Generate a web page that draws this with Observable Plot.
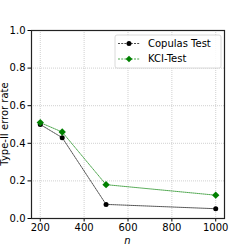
<!DOCTYPE html>
<html><head><meta charset="utf-8">
<script src="https://cdn.jsdelivr.net/npm/d3@7"></script>
<script src="https://cdn.jsdelivr.net/npm/@observablehq/plot@0.6"></script>
<style>
html,body{margin:0;padding:0;background:#fff;}
#chart{width:249px;height:249px;}
svg{font-family:"DejaVu Sans",sans-serif;}
</style></head>
<body><div id="chart"></div>
<script>
const nValues = [200, 300, 500, 1000];
const copulas = [0.50, 0.43, 0.075, 0.052];
const kci = [0.51, 0.46, 0.18, 0.124];
const xTicks = [200, 400, 600, 800, 1000];
const yTicks = [0.0, 0.2, 0.4, 0.6, 0.8, 1.0];
const seriesNames = ["Copulas Test", "KCI-Test"];
const seriesColors = ["#000000", "#008000"];

const rows = [];
nValues.forEach((n, i) => {
  rows.push({n, v: copulas[i], s: seriesNames[0]});
  rows.push({n, v: kci[i], s: seriesNames[1]});
});
const cop = rows.filter(d => d.s === seriesNames[0]);
const kc = rows.filter(d => d.s === seriesNames[1]);

const svg = Plot.plot({
  width: 249, height: 249,
  marginLeft: 31, marginRight: 25, marginTop: 30, marginBottom: 31,
  style: {fontSize: "10px", fontFamily: "DejaVu Sans, sans-serif", color: "#000", background: "#fff"},
  x: {domain: [160, 1040], ticks: xTicks},
  y: {domain: [0, 1], ticks: yTicks},
  marks: [
    Plot.gridX(xTicks, {stroke: "#b0b0b0", strokeOpacity: 1, strokeWidth: 0.6, strokeDasharray: "1,1"}),
    Plot.gridY(yTicks, {stroke: "#b0b0b0", strokeOpacity: 1, strokeWidth: 0.6, strokeDasharray: "1,1"}),
    Plot.axisX(xTicks, {tickSize: 3.5, tickPadding: 2, label: null, tickFormat: d3.format("d"), fontSize: 10}),
    Plot.axisY(yTicks, {tickSize: 3.5, tickPadding: 2.5, label: null, tickFormat: d3.format(".1f"), fontSize: 10}),
    Plot.line(cop, {x: "n", y: "v", stroke: seriesColors[0], strokeWidth: 0.7, strokeDasharray: "1,1"}),
    Plot.line(kc, {x: "n", y: "v", stroke: seriesColors[1], strokeWidth: 0.7, strokeDasharray: "1,1"}),
    Plot.dot(cop, {x: "n", y: "v", r: 2.5, fill: seriesColors[0], stroke: null, symbol: "circle"}),
    Plot.dot(kc, {x: "n", y: "v", r: 3.3, fill: seriesColors[1], stroke: null, symbol: "diamond2"}),
    Plot.frame({stroke: "#222", strokeWidth: 1.2})
  ]
});
document.getElementById("chart").appendChild(svg);

const s = d3.select(svg);
// axis titles
s.append("text").attr("transform", "translate(5,124) rotate(-90)")
  .attr("text-anchor", "middle").attr("dominant-baseline", "middle")
  .attr("font-size", 10).attr("fill", "#000").text("Type-II error rate");
s.append("text").attr("x", 127.5).attr("y", 241)
  .attr("text-anchor", "middle").attr("dominant-baseline", "middle")
  .attr("font-size", 10).attr("font-style", "italic").attr("fill", "#000").text("n");

// legend
const lg = s.append("g").attr("text-anchor", "start");
lg.append("rect").attr("x", 115).attr("y", 35).attr("width", 106).attr("height", 33)
  .attr("rx", 2).attr("fill", "#fff").attr("fill-opacity", 0.85).attr("stroke", "#d0d0d0").attr("stroke-width", 0.8);
seriesNames.forEach((name, i) => {
  const y = 43.5 + i * 15.5;
  lg.append("line").attr("x1", 118).attr("x2", 140).attr("y1", y).attr("y2", y)
    .attr("stroke", seriesColors[i]).attr("stroke-width", 0.7).attr("stroke-dasharray", "2,1.2");
  if (i === 0) {
    lg.append("circle").attr("cx", 129).attr("cy", y).attr("r", 2.5).attr("fill", seriesColors[i]);
  } else {
    lg.append("path").attr("d", d3.symbol(d3.symbolSquare, 2 * 3.3 * 3.3)())
      .attr("transform", `translate(129,${y}) rotate(45)`).attr("fill", seriesColors[i]);
  }
  lg.append("text").attr("x", 148).attr("y", y).attr("dominant-baseline", "middle")
    .attr("text-anchor", "start")
    .attr("font-size", 10).attr("fill", "#000").text(name);
});
</script></body></html>
